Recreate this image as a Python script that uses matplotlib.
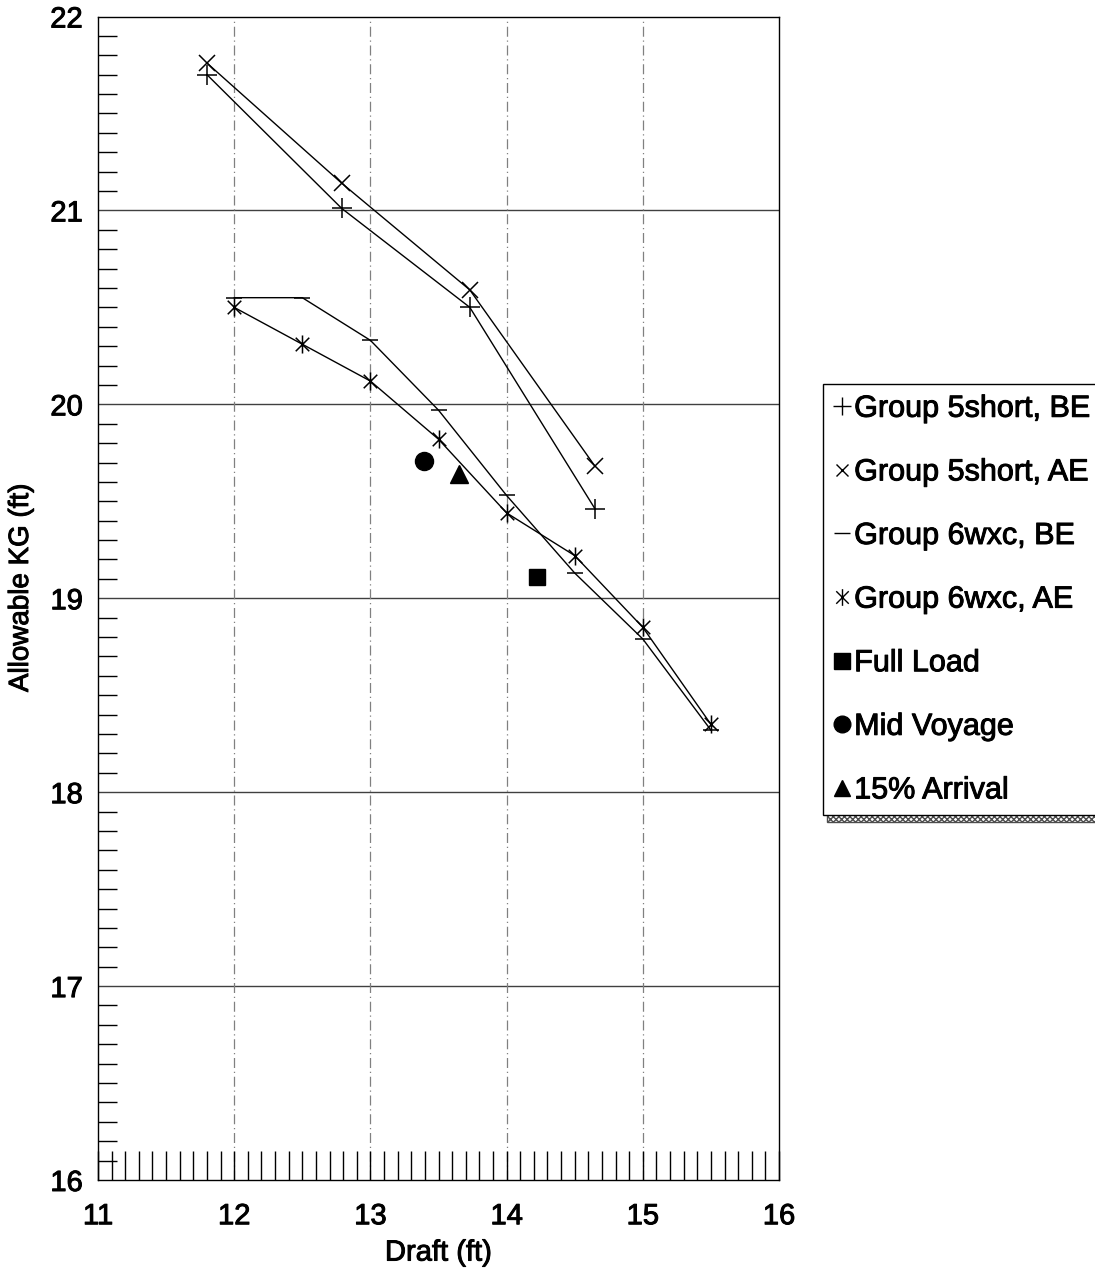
import matplotlib
matplotlib.use("Agg")
import matplotlib.pyplot as plt
import matplotlib.patheffects as pe
from matplotlib.lines import Line2D
from matplotlib.path import Path
from matplotlib.ticker import MultipleLocator

plt.rcParams['font.family'] = ['Liberation Sans', 'DejaVu Sans']

# ---- data ----
g5_be_x = [11.80, 12.79, 13.73, 14.65]
g5_be_y = [21.70, 21.01, 20.50, 19.46]
g5_ae_x = [11.80, 12.79, 13.73, 14.65]
g5_ae_y = [21.76, 21.14, 20.59, 19.68]
g6_be_x = [12.0, 12.5, 13.0, 13.5, 14.0, 14.5, 15.0, 15.5]
g6_be_y = [20.55, 20.55, 20.33, 19.97, 19.53, 19.13, 18.79, 18.32]
g6_ae_x = [12.0, 12.5, 13.0, 13.5, 14.0, 14.5, 15.0, 15.5]
g6_ae_y = [20.50, 20.31, 20.12, 19.82, 19.44, 19.22, 18.85, 18.35]
full_load = (14.22, 19.11)
mid_voyage = (13.39, 19.71)
arrival15 = (13.65, 19.64)

labels = ["Group 5short, BE", "Group 5short, AE", "Group 6wxc, BE", "Group 6wxc, AE",
          "Full Load", "Mid Voyage", "15% Arrival"]
x_ticks = [11, 12, 13, 14, 15, 16]
y_ticks = [16, 17, 18, 19, 20, 21, 22]

# asterisk marker (vertical + X)
ast = Path([(0, -1), (0, 1), (-0.75, -0.75), (0.75, 0.75), (-0.75, 0.75), (0.75, -0.75)],
           [Path.MOVETO, Path.LINETO, Path.MOVETO, Path.LINETO, Path.MOVETO, Path.LINETO])

thick = [pe.withStroke(linewidth=0.7, foreground='black')]

fig = plt.figure(figsize=(10.95, 12.72), dpi=100)
ax = fig.add_axes([98/1095, 1-1180/1272, (779-98)/1095, (1180-16.5)/1272])

lk = dict(color='black', lw=1.0, mew=1.1)
ax.plot(g5_be_x, g5_be_y, marker='+', ms=14, **lk)
ax.plot(g5_ae_x, g5_ae_y, marker='x', ms=11, **lk)
ax.plot(g6_be_x, g6_be_y, marker='_', ms=12, **lk)
ax.plot(g6_ae_x, g6_ae_y, marker=ast, ms=13, **lk)
ax.plot([full_load[0]], [full_load[1]], marker='s', ms=12, color='black', ls='none')
ax.plot([mid_voyage[0]], [mid_voyage[1]], marker='o', ms=13, color='black', ls='none')
ax.plot([arrival15[0]], [arrival15[1]], marker='^', ms=13, color='black', ls='none')

ax.set_xlim(11, 16)
ax.set_ylim(16, 22)
ax.set_xticks(x_ticks)
ax.set_yticks(y_ticks)
ax.xaxis.set_minor_locator(MultipleLocator(0.1))
ax.yaxis.set_minor_locator(MultipleLocator(0.1))
ax.tick_params(axis='x', which='both', direction='in', length=21, width=1, labelsize=21, pad=16)
ax.tick_params(axis='y', which='major', direction='in', length=0, labelsize=21, pad=11)
ax.tick_params(axis='y', which='minor', direction='in', length=14, width=1)
for t in ax.get_xticklabels() + ax.get_yticklabels():
    t.set_path_effects(thick)

# grid
for yv in y_ticks[1:-1]:
    ax.axhline(yv, color='0.25', lw=1.0, zorder=0)
for xv in x_ticks[1:-1]:
    ax.axvline(xv, color='0.5', lw=0.9, ls=(0, (8, 3, 1, 3)), zorder=0)

for s in ax.spines.values():
    s.set_linewidth(1.0)

xl = ax.set_xlabel("Draft (ft)", fontsize=21, labelpad=6)
yl = ax.set_ylabel("Allowable KG (ft)", fontsize=20)
ax.yaxis.set_label_coords(-0.094, 0.509)
xl.set_path_effects(thick)
yl.set_path_effects(thick)

handles = [
    Line2D([], [], color='black', marker='+', ms=13, mew=1.0, ls='none'),
    Line2D([], [], color='black', marker='x', ms=9, mew=1.0, ls='none'),
    Line2D([], [], color='black', marker='_', ms=11, mew=1.0, ls='none'),
    Line2D([], [], color='black', marker=ast, ms=12, mew=1.0, ls='none'),
    Line2D([], [], color='black', marker='s', ms=11, ls='none'),
    Line2D([], [], color='black', marker='o', ms=12, ls='none'),
    Line2D([], [], color='black', marker='^', ms=12, ls='none'),
]
leg = fig.legend(handles, labels, loc='upper left', bbox_to_anchor=(823/1095, 1-384/1272),
                 fontsize=22, frameon=True, fancybox=False, handlelength=0.6,
                 handletextpad=0.1, labelspacing=1.1, borderpad=0.32, borderaxespad=0,
                 shadow={'facecolor': 'white', 'edgecolor': '0.3', 'hatch': 'xxxxxx', 'alpha': 1,
                         'ox': 3, 'oy': -5})
leg.get_frame().set_edgecolor('black')
leg.get_frame().set_linewidth(1.0)
for t in leg.get_texts():
    t.set_path_effects(thick)

fig.savefig("out.png", dpi=100)
